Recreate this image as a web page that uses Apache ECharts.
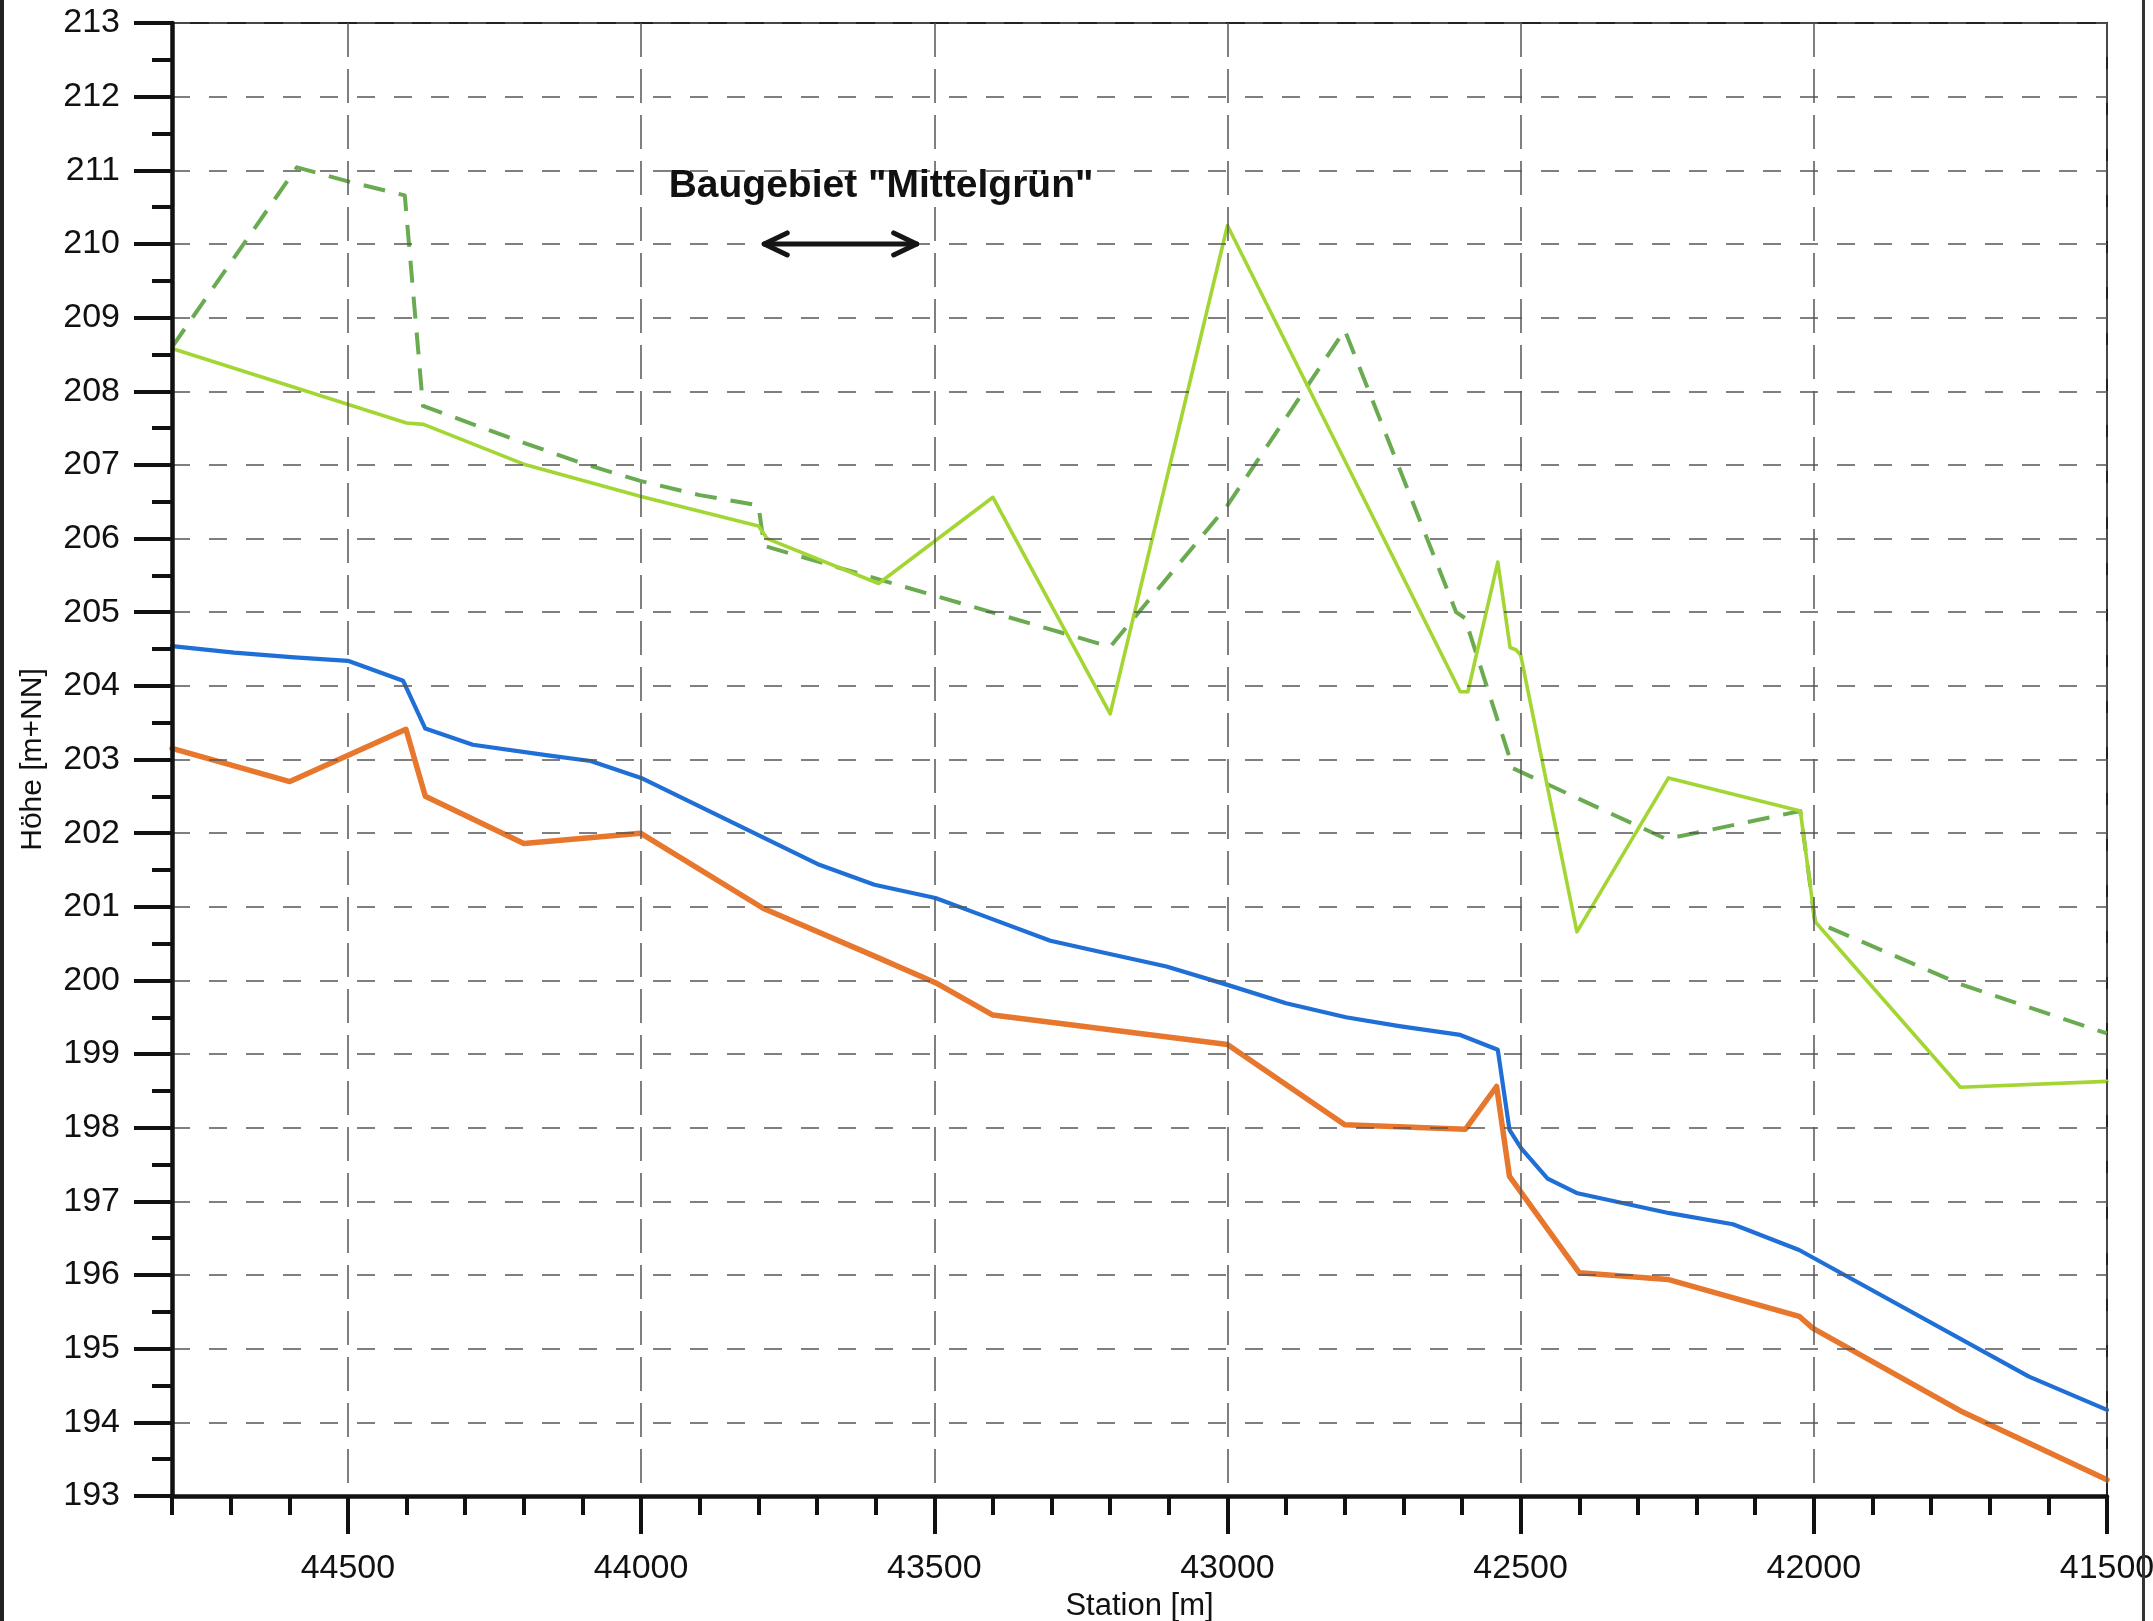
<!DOCTYPE html>
<html>
<head>
<meta charset="utf-8">
<script src="https://cdn.jsdelivr.net/npm/echarts@6/dist/echarts.min.js"></script>
<style>
html,body{margin:0;padding:0;background:#fff;}
#chart{width:2153px;height:1621px;}
</style>
</head>
<body>
<div id="chart"></div>
<script>
// ---- Data ----
const xTickLabels = [41500, 42000, 42500, 43000, 43500, 44000, 44500];

// Light green solid line
const stationA = [44800, 44400, 44371, 44200, 44000, 43800, 43785, 43595, 43400, 43200, 43000, 42603, 42590, 42539, 42518, 42508, 42500, 42404, 42248, 42023, 41998, 41750, 41500];
const heightA  = [208.58, 207.57, 207.55, 207.01, 206.57, 206.17, 206.0, 205.39, 206.56, 203.62, 210.25, 203.92, 203.92, 205.68, 204.52, 204.49, 204.42, 200.66, 202.75, 202.30, 200.80, 198.55, 198.63];

// Dark green dashed line
const stationB = [44800, 44587, 44500, 44403, 44372, 44200, 44100, 44000, 43900, 43800, 43790, 43200, 43000, 42800, 42610, 42595, 42513, 42252, 42023, 41998, 41750, 41500];
const heightB  = [208.6, 211.04, 210.85, 210.66, 207.8, 207.3, 207.02, 206.78, 206.59, 206.45, 205.9, 204.53, 206.45, 208.83, 205.0, 204.92, 202.88, 201.92, 202.30, 200.80, 199.95, 199.28];

// Blue line
const stationC = [44800, 44694, 44597, 44500, 44406, 44368, 44287, 44162, 44086, 44000, 43696, 43602, 43498, 43417, 43302, 43218, 43104, 43000, 42900, 42798, 42707, 42603, 42539, 42519, 42499, 42454, 42403, 42246, 42138, 42025, 41633, 41500];
const heightC  = [204.54, 204.45, 204.39, 204.34, 204.07, 203.42, 203.2, 203.06, 202.98, 202.75, 201.57, 201.3, 201.12, 200.88, 200.54, 200.39, 200.19, 199.94, 199.69, 199.5, 199.38, 199.26, 199.06, 197.97, 197.72, 197.31, 197.11, 196.84, 196.69, 196.34, 194.62, 194.17];

// Orange line
const stationD = [44800, 44599, 44401, 44368, 44200, 44001, 43792, 43602, 43498, 43400, 43000, 42800, 42594, 42541, 42519, 42400, 42249, 42025, 42002, 41746, 41500];
const heightD  = [203.15, 202.70, 203.41, 202.50, 201.86, 202.0, 200.98, 200.33, 199.97, 199.53, 199.13, 198.04, 197.98, 198.56, 197.34, 196.03, 195.94, 195.44, 195.28, 194.14, 193.22];

// Annotation
const annotationLabel = 'Baugebiet "Mittelgrün"';
const annotationAt = [43953, 210.79];
const arrowFrom = 43790;
const arrowTo = 43530;
const arrowY = 210;

const xName = 'Station [m]';
const yName = 'Höhe [m+NN]';

// ---- Chart ----
const FONT = '"Liberation Sans", Arial, sans-serif';
const zip = (xs, ys) => xs.map((x, i) => [x, ys[i]]);

const chart = echarts.init(document.getElementById('chart'), null, {renderer: 'canvas'});

const option = {
  backgroundColor: '#ffffff',
  animation: false,
  grid: {left: 172, right: 46, top: 23, bottom: 125, containLabel: false, outerBoundsMode: 'none', show: true, borderColor: '#222', borderWidth: 2, backgroundColor: 'transparent'},
  graphic: [
    {type: 'rect', shape: {x: 0, y: 0, width: 4, height: 1621}, style: {fill: '#222'}, z: 100},
    {type: 'rect', shape: {x: 2142, y: 0, width: 3, height: 1621}, style: {fill: '#333'}, z: 100}
  ],
  xAxis: [
    {
      type: 'value', inverse: true, min: 41500, max: 44800, interval: 500,
      position: 'bottom',
      name: xName, nameLocation: 'middle', nameGap: 84,
      nameTextStyle: {fontFamily: FONT, fontSize: 31, color: '#111'},
      axisLine: {show: true, onZero: false, lineStyle: {color: '#111', width: 4.5}},
      axisTick: {show: true, inside: false, length: 38, lineStyle: {color: '#111', width: 4}, customValues: xTickLabels},
      axisLabel: {show: true, margin: 56, fontFamily: FONT, fontSize: 34, color: '#111', customValues: xTickLabels, formatter: v => String(v)},
      splitLine: {show: true, lineStyle: {color: '#555', width: 1.5, type: [34, 12]}},
      z: 5
    },
    {
      type: 'value', inverse: true, min: 41500, max: 44800, interval: 100,
      position: 'bottom', gridIndex: 0,
      axisLine: {show: false},
      axisTick: {show: true, inside: false, length: 19, lineStyle: {color: '#111', width: 4}},
      axisLabel: {show: false},
      splitLine: {show: false},
      z: 5
    }
  ],
  yAxis: {
    type: 'value', min: 193, max: 213, interval: 1,
    name: yName, nameLocation: 'middle', nameGap: 124,
    nameTextStyle: {fontFamily: FONT, fontSize: 30, color: '#111'},
    axisLine: {show: true, onZero: false, lineStyle: {color: '#111', width: 4.5}},
    axisTick: {show: true, inside: false, length: 38, lineStyle: {color: '#111', width: 4}},
    minorTick: {show: true, splitNumber: 2, length: 20, lineStyle: {color: '#111', width: 4}},
    axisLabel: {show: true, margin: 52, fontFamily: FONT, fontSize: 34, color: '#111'},
    splitLine: {show: true, lineStyle: {color: '#555', width: 1.5, type: [18, 19]}},
    z: 5
  },
  series: [
    {
      name: 'dashed', type: 'line', data: zip(stationB, heightB), showSymbol: false, silent: true,
      lineStyle: {color: '#6aab52', width: 4, type: [22, 14], cap: 'butt', join: 'round'}, z: 2
    },
    {
      name: 'ground', type: 'line', data: zip(stationA, heightA), showSymbol: false, silent: true,
      lineStyle: {color: '#a3d633', width: 3.6, cap: 'round', join: 'round'}, z: 3
    },
    {
      name: 'blue', type: 'line', data: zip(stationC, heightC), showSymbol: false, silent: true,
      lineStyle: {color: '#1f6fd6', width: 4.2, cap: 'round', join: 'round'}, z: 3
    },
    {
      name: 'orange', type: 'line', data: zip(stationD, heightD), showSymbol: false, silent: true,
      lineStyle: {color: '#e8772e', width: 5.5, cap: 'round', join: 'round'}, z: 4
    },
    {
      type: 'custom', silent: true, z: 10,
      data: [[arrowFrom, arrowTo, arrowY, annotationAt[0], annotationAt[1]]],
      renderItem: function (params, api) {
        const p1 = api.coord([api.value(0), api.value(2)]);
        const p2 = api.coord([api.value(1), api.value(2)]);
        const t = api.coord([api.value(3), api.value(4)]);
        const st = {stroke: '#151515', lineWidth: 5, fill: null, lineCap: 'round', lineJoin: 'round'};
        const dirL = p1[0] < p2[0] ? 1 : -1;
        return {
          type: 'group',
          children: [
            {type: 'line', shape: {x1: p1[0], y1: p1[1], x2: p2[0], y2: p2[1]}, style: st},
            {type: 'polyline', shape: {points: [[p1[0] + dirL * 23, p1[1] - 11], [p1[0], p1[1]], [p1[0] + dirL * 23, p1[1] + 11]]}, style: st},
            {type: 'polyline', shape: {points: [[p2[0] - dirL * 23, p2[1] - 11], [p2[0], p2[1]], [p2[0] - dirL * 23, p2[1] + 11]]}, style: st},
            {type: 'text', x: t[0], y: t[1], style: {text: annotationLabel, font: 'bold 39px ' + FONT, fill: '#111', align: 'left', verticalAlign: 'middle', textAlign: 'left', textVerticalAlign: 'middle'}}
          ]
        };
      }
    }
  ]
};

chart.setOption(option);
</script>
</body>
</html>
